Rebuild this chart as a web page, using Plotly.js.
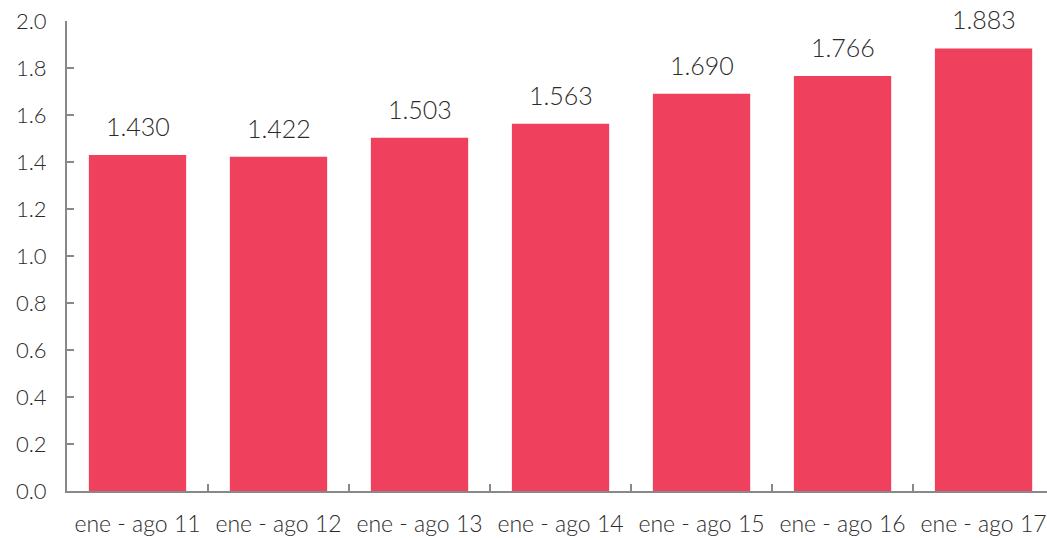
<!DOCTYPE html>
<html><head><meta charset="utf-8">
<script src="https://cdn.plot.ly/plotly-3.0.1.min.js"></script>
<style>html,body{margin:0;padding:0;background:#fff}#chart{width:1047px;height:538px}</style>
</head><body><div id="chart"></div>
<script>
const categories = ["ene - ago 11","ene - ago 12","ene - ago 13","ene - ago 14","ene - ago 15","ene - ago 16","ene - ago 17"];
const values = [1.430, 1.422, 1.503, 1.563, 1.690, 1.766, 1.883];
const yTickVals = [0,0.2,0.4,0.6,0.8,1.0,1.2,1.4,1.6,1.8,2.0];

const fontFam = "Lato, 'Open Sans', sans-serif";
const txtColor = "#2b2b2b";

const trace = {
  type: "bar",
  x: categories,
  y: values,
  marker: {color: "#EF405D"},
  hoverinfo: "skip"
};

const annotations = categories.map((c, i) => ({
  x: c, y: values[i], xref: "x", yref: "y",
  text: values[i].toFixed(3),
  showarrow: false, yanchor: "bottom", yshift: 12,
  font: {family: fontFam, size: 25, color: txtColor, weight: 300}
}));

const layout = {
  width: 1047, height: 538,
  margin: {l: 67, r: 0, t: 21, b: 47, pad: 0},
  paper_bgcolor: "#fff", plot_bgcolor: "#fff",
  bargap: 0.31,
  showlegend: false,
  xaxis: {
    type: "category",
    range: [-0.5, 6.45],
    showline: true, linecolor: "#888", linewidth: 2,
    ticks: "inside", tickson: "boundaries", ticklen: 7, tickcolor: "#888", tickwidth: 1.5,
    showgrid: false, zeroline: false,
    tickfont: {family: fontFam, size: 23, color: txtColor, weight: 300},
    ticklabelstandoff: 11,
    fixedrange: true
  },
  yaxis: {
    range: [0, 2.0],
    tickvals: yTickVals,
    ticktext: yTickVals.map(v => v.toFixed(1)),
    showline: true, linecolor: "#888", linewidth: 2,
    ticks: "inside", ticklen: 7, tickcolor: "#888", tickwidth: 1.5,
    showgrid: false, zeroline: false,
    tickfont: {family: fontFam, size: 22, color: txtColor, weight: 300},
    ticklabelstandoff: 14,
    fixedrange: true
  },
  annotations: annotations
};

Plotly.newPlot("chart", [trace], layout, {displayModeBar: false, staticPlot: true});
</script>
</body></html>
